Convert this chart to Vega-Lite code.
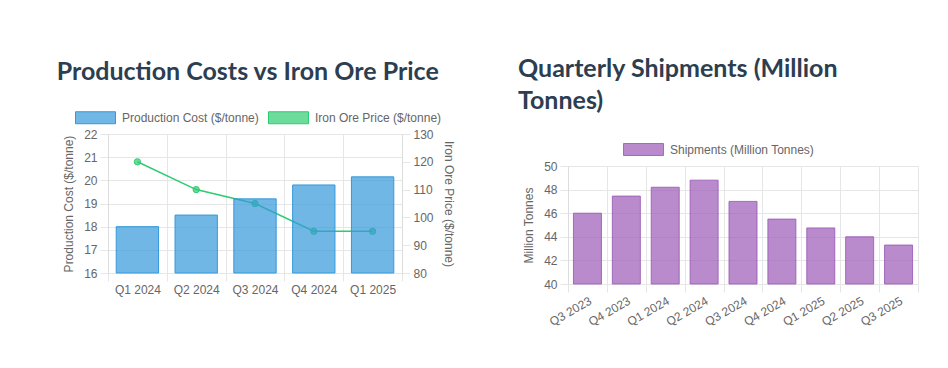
{
  "$schema": "https://vega.github.io/schema/vega-lite/v6.json",
  "background": "white",
  "padding": {"left": 56, "top": 57, "right": 10, "bottom": 10},
  "datasets": {
    "costs": [
      {"quarter": "Q1 2024", "cost": 18.0, "price": 120},
      {"quarter": "Q2 2024", "cost": 18.5, "price": 110},
      {"quarter": "Q3 2024", "cost": 19.2, "price": 105},
      {"quarter": "Q4 2024", "cost": 19.8, "price": 95},
      {"quarter": "Q1 2025", "cost": 20.15, "price": 95}
    ],
    "ship": [
      {"quarter": "Q3 2023", "shipments": 46.0},
      {"quarter": "Q4 2023", "shipments": 47.45},
      {"quarter": "Q1 2024", "shipments": 48.2},
      {"quarter": "Q2 2024", "shipments": 48.8},
      {"quarter": "Q3 2024", "shipments": 47.0},
      {"quarter": "Q4 2024", "shipments": 45.5},
      {"quarter": "Q1 2025", "shipments": 44.75},
      {"quarter": "Q2 2025", "shipments": 44.0},
      {"quarter": "Q3 2025", "shipments": 43.3}
    ],
    "none": []
  },
  "config": {
    "font": "Liberation Sans",
    "view": {"stroke": null},
    "axis": {
      "labelColor": "#666666",
      "titleColor": "#666666",
      "labelFont": "Liberation Sans",
      "titleFont": "Liberation Sans",
      "labelFontSize": 12,
      "titleFontSize": 12,
      "titleFontWeight": "normal",
      "gridColor": "#e6e6e6",
      "domainColor": "#dcdcdc",
      "tickColor": "#e6e6e6",
      "tickSize": 8,
      "labelPadding": 3,
      "titlePadding": 8
    },
    "legend": {
      "labelFont": "Liberation Sans",
      "labelFontSize": 12,
      "labelColor": "#666666"
    },
    "title": {
      "font": "Lato",
      "fontSize": 25,
      "fontWeight": "bold",
      "color": "#2c3e50",
      "anchor": "start",
      "frame": "bounds",
      "lineHeight": 32
    }
  },
  "hconcat": [
    {
      "title": {"text": "Production Costs vs Iron Ore Price", "dx": -6, "offset": 25},
      "width": 294,
      "height": 139,
      "data": {"name": "costs"},
      "encoding": {
        "x": {
          "field": "quarter",
          "type": "nominal",
          "sort": null,
          "scale": {"paddingInner": 0, "paddingOuter": 0},
          "axis": {"title": null, "labelAngle": 0, "tickBand": "extent", "grid": true, "domain": false}
        }
      },
      "layer": [
        {
          "encoding": {
            "y": {
              "field": "price",
              "type": "quantitative",
              "scale": {"domain": [80, 130], "nice": false, "zero": false},
              "axis": {"orient": "right", "title": "Iron Ore Price ($/tonne)", "values": [80, 90, 100, 110, 120, 130], "grid": false}
            }
          },
          "layer": [
            {
              "mark": {"type": "line", "strokeWidth": 1.5},
              "encoding": {
                "stroke": {
                  "datum": "Iron Ore Price ($/tonne)",
                  "type": "nominal",
                  "scale": {"domain": ["Production Cost ($/tonne)", "Iron Ore Price ($/tonne)"], "range": ["#3498db", "#2ecc71"]},
                  "legend": {"title": null, "orient": "none", "legendX": -20, "legendY": -24, "direction": "horizontal", "symbolType": "M-2.857,-0.857H2.857V0.857H-2.857Z", "symbolSize": 196, "symbolStrokeWidth": 1, "labelOffset": 19, "columnPadding": 7}
                }
              }
            },
            {
              "mark": {"type": "point", "filled": true, "size": 40, "strokeWidth": 1, "opacity": 1},
              "encoding": {
                "fill": {
                  "datum": "Iron Ore Price ($/tonne)",
                  "type": "nominal",
                  "scale": {"domain": ["Production Cost ($/tonne)", "Iron Ore Price ($/tonne)"], "range": ["rgba(52,152,219,0.7)", "rgba(46,204,113,0.7)"]},
                  "legend": {"title": null, "orient": "none", "legendX": -20, "legendY": -24, "direction": "horizontal", "symbolType": "M-2.857,-0.857H2.857V0.857H-2.857Z", "symbolSize": 196, "symbolStrokeWidth": 1, "labelOffset": 19, "columnPadding": 7}
                },
                "stroke": {"datum": "Iron Ore Price ($/tonne)", "type": "nominal"}
              }
            }
          ]
        },
        {
          "mark": {"type": "bar", "width": {"band": 0.72}, "strokeWidth": 1},
          "encoding": {
            "y": {
              "field": "cost",
              "type": "quantitative",
              "scale": {"domain": [16, 22], "nice": false, "zero": false},
              "axis": {"orient": "left", "title": "Production Cost ($/tonne)", "values": [16, 17, 18, 19, 20, 21, 22], "grid": true}
            },
            "y2": {"datum": 16},
            "fill": {"datum": "Production Cost ($/tonne)", "type": "nominal"},
            "stroke": {"datum": "Production Cost ($/tonne)", "type": "nominal"}
          }
        }
      ],
      "resolve": {"scale": {"y": "independent"}}
    },
    {
      "vconcat": [
        {
          "title": {"text": ["Quarterly Shipments (Million", "Tonnes)"], "dx": -50, "offset": 20},
          "width": 350,
          "height": 1,
          "data": {"name": "none"},
          "mark": {"type": "point", "opacity": 0},
          "encoding": {}
        },
        {
          "width": 350,
          "height": 118,
          "data": {"name": "ship"},
          "mark": {"type": "bar", "width": {"band": 0.72}, "strokeWidth": 1},
          "encoding": {
            "x": {
              "field": "quarter",
              "type": "nominal",
              "sort": null,
              "scale": {"paddingInner": 0, "paddingOuter": 0},
              "axis": {"title": null, "labelAngle": -30, "labelAlign": "right", "labelBaseline": "top", "tickBand": "extent", "grid": true, "domain": false}
            },
            "y": {
              "field": "shipments",
              "type": "quantitative",
              "scale": {"domain": [40, 50], "nice": false, "zero": false},
              "axis": {"title": "Million Tonnes", "values": [40, 42, 44, 46, 48, 50], "grid": true}
            },
            "y2": {"datum": 40},
            "fill": {
              "datum": "Shipments (Million Tonnes)",
              "type": "nominal",
              "scale": {"range": ["rgba(155,89,182,0.7)"]},
              "legend": {"title": null, "orient": "none", "legendX": 68, "legendY": -24, "direction": "horizontal", "symbolType": "M-2.857,-0.857H2.857V0.857H-2.857Z", "symbolSize": 196, "symbolStrokeWidth": 1, "labelOffset": 19}
            },
            "stroke": {
              "datum": "Shipments (Million Tonnes)",
              "type": "nominal",
              "scale": {"range": ["rgba(155,89,182,0.85)"]},
              "legend": {"title": null, "orient": "none", "legendX": 68, "legendY": -24, "direction": "horizontal", "symbolType": "M-2.857,-0.857H2.857V0.857H-2.857Z", "symbolSize": 196, "symbolStrokeWidth": 1, "labelOffset": 19}
            }
          }
        }
      ],
      "spacing": 7,
      "resolve": {"scale": {"fill": "independent", "stroke": "independent"}}
    }
  ],
  "spacing": 63,
  "resolve": {"scale": {"fill": "independent", "stroke": "independent"}}
}
